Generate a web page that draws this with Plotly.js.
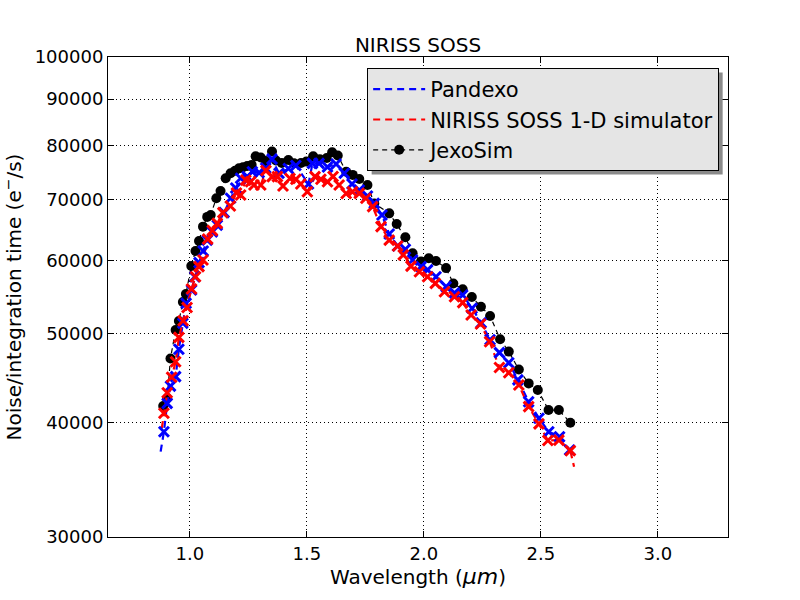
<!DOCTYPE html>
<html>
<head>
<meta charset="utf-8">
<script src="https://cdn.plot.ly/plotly-3.0.1.min.js"></script>
<style>
  html, body { margin: 0; padding: 0; background: #fff; }
  #chart { width: 800px; height: 600px; }
</style>
</head>
<body>
<div id="chart"></div>
<script>
// values (wavelength in µm, noise/integration time in e-/s)
const pandexoX = [0.889,0.903,0.917,0.939,0.953,0.970,0.984,1.007,1.021,1.039,1.057,1.074,1.096,1.117,1.146,1.174,1.196,1.217,1.245,1.267,1.296,1.324,1.351,1.381,1.421,1.453,1.507,1.524,1.552,1.588,1.625,1.660,1.693,1.724,1.759,1.788,1.821,1.852,1.888,1.921,1.952,1.988,2.016,2.052,2.095,2.131,2.166,2.206,2.245,2.283,2.323,2.363,2.402,2.448,2.492,2.534,2.580,2.623];
const pandexoY = [39070,41950,43800,44850,48050,51300,53920,55740,57630,59700,61470,63180,64500,65600,67680,70170,72000,73770,74070,75000,74820,75690,77400,74700,75600,76170,72720,76590,76590,75900,76470,74700,72720,71640,70560,69270,67290,64140,62250,61740,60090,59100,58620,57630,56220,55350,55050,53250,51330,49200,47640,46440,44490,42120,40410,39070,38580,37320];
// the dashed curves run a little past the first and last markers
const pandexoEndsX = [0.875, 2.632];
const pandexoEndsY = [37170, 36900];

const sossX = [0.889,0.903,0.922,0.939,0.953,0.971,0.988,1.007,1.024,1.039,1.056,1.076,1.096,1.117,1.141,1.173,1.199,1.217,1.239,1.260,1.274,1.303,1.325,1.352,1.374,1.398,1.428,1.453,1.474,1.502,1.535,1.560,1.588,1.612,1.638,1.668,1.695,1.724,1.752,1.781,1.817,1.852,1.888,1.912,1.945,1.981,2.016,2.049,2.088,2.131,2.166,2.202,2.242,2.281,2.323,2.363,2.406,2.448,2.492,2.530,2.577,2.626];
const sossY = [40920,43080,44790,46560,49500,51600,53350,55890,57630,59100,60090,63330,64710,65880,67680,68820,71100,70740,73440,73140,72540,72540,75210,74070,74070,72360,73740,73590,72720,71310,74070,73590,73140,74100,72540,71010,71310,71040,70170,68700,65340,63180,62250,60870,59190,58350,57630,56670,55500,54810,54000,52350,51180,48960,45900,45300,43920,41610,39840,38220,38250,37260];
const sossEndsX = [0.880, 2.642];
const sossEndsY = [39420, 35790];

const jexoX = [0.886,0.903,0.917,0.939,0.953,0.970,0.983,1.006,1.024,1.039,1.056,1.074,1.089,1.113,1.131,1.153,1.174,1.193,1.210,1.227,1.245,1.264,1.281,1.303,1.324,1.351,1.368,1.393,1.421,1.445,1.475,1.498,1.527,1.555,1.585,1.608,1.632,1.668,1.696,1.724,1.759,1.788,1.852,1.884,1.921,1.952,1.988,2.021,2.052,2.095,2.126,2.166,2.205,2.244,2.283,2.326,2.363,2.406,2.448,2.487,2.533,2.577,2.626];
const jexoY = [41670,42480,46950,50430,51580,54090,55180,59190,61470,63030,65340,66960,67290,70170,71460,73770,74700,75180,75630,75840,76080,76290,77940,77730,77040,78900,77130,76650,77220,76590,76650,76920,77940,77400,77610,78750,78120,75000,74400,73650,72540,69270,67560,65790,63630,61110,59880,60360,59940,58890,56670,55830,54780,53460,52230,49260,47760,45660,44100,43380,41250,41250,39960];

const xTicks = [1.0, 1.5, 2.0, 2.5, 3.0];
const xTickText = ['1.0', '1.5', '2.0', '2.5', '3.0'];
const yTicks = [30000, 40000, 50000, 60000, 70000, 80000, 90000, 100000];
const yTickText = ['30000', '40000', '50000', '60000', '70000', '80000', '90000', '100000'];

const FONT = 'DejaVu Sans, sans-serif';
const BLUE = '#0000ff', RED = '#ff0000';

function withEnds(xs, ys, ex, ey) {
  return { x: [ex[0]].concat(xs, [ex[1]]), y: [ey[0]].concat(ys, [ey[1]]) };
}
const pLine = withEnds(pandexoX, pandexoY, pandexoEndsX, pandexoEndsY);
const sLine = withEnds(sossX, sossY, sossEndsX, sossEndsY);

const traces = [
  { type: 'scatter', mode: 'lines+markers', name: 'JexoSim', legendrank: 3, legendgroup: 'c',
    x: jexoX, y: jexoY,
    line: { color: '#000', width: 1.2, dash: '5px,4px' },
    marker: { color: '#000', size: 10, symbol: 'circle' } },
  { type: 'scatter', mode: 'lines', name: 'Pandexo', legendrank: 1, legendgroup: 'a',
    x: pLine.x, y: pLine.y,
    line: { color: BLUE, width: 2.2, dash: '7px,5px' } },
  { type: 'scatter', mode: 'lines', name: 'NIRISS SOSS 1-D simulator', legendrank: 2, legendgroup: 'b',
    x: sLine.x, y: sLine.y,
    line: { color: RED, width: 2.2, dash: '7px,5px' } },
  { type: 'scatter', mode: 'markers', showlegend: false, legendgroup: 'a',
    x: pandexoX, y: pandexoY,
    marker: { symbol: 'x-thin', size: 10, color: BLUE, line: { color: BLUE, width: 3 } } },
  { type: 'scatter', mode: 'markers', showlegend: false, legendgroup: 'b',
    x: sossX, y: sossY,
    marker: { symbol: 'x-thin', size: 10, color: RED, line: { color: RED, width: 3 } } }
];

const axisCommon = {
  showgrid: true, gridcolor: '#000', gridwidth: 1, griddash: '1px,3px',
  showline: true, linecolor: '#000', linewidth: 1, mirror: 'ticks',
  ticks: 'inside', ticklen: 6, tickcolor: '#000', tickwidth: 1,
  zeroline: false, tickfont: { family: FONT, size: 18, color: '#000' }
};

const layout = {
  width: 800, height: 600,
  margin: { l: 108, r: 72, t: 57, b: 63 },
  paper_bgcolor: '#fff', plot_bgcolor: '#fff',
  font: { family: FONT, color: '#000' },
  title: { text: 'NIRISS SOSS', font: { family: FONT, size: 20, color: '#000' },
    x: 0.5, xref: 'paper', y: 0.925, yref: 'container', yanchor: 'middle' },
  xaxis: Object.assign({}, axisCommon, {
    range: [0.65, 3.3], tickvals: xTicks, ticktext: xTickText,
    title: { text: 'Wavelength (<i><span style="font-size:22px">μm</span></i>)', font: { family: FONT, size: 20 }, standoff: 6 }
  }),
  yaxis: Object.assign({}, axisCommon, {
    type: 'log', range: [Math.log10(30000), 5], tickvals: yTicks, ticktext: yTickText,
    title: { text: 'Noise/integration time (e<sup>−</sup>/s)', font: { family: FONT, size: 20 }, standoff: 8 }
  }),
  showlegend: true,
  legend: {
    x: 0.418, y: 0.977, xanchor: 'left', yanchor: 'top',
    bgcolor: '#e5e5e5', bordercolor: '#000', borderwidth: 1,
    font: { family: FONT, size: 21, color: '#000' },
    tracegroupgap: 0, itemwidth: 52
  }
};

Plotly.newPlot('chart', traces, layout, { displayModeBar: false, staticPlot: true }).then(gd => {
  // drop shadow behind the legend box, offset a few pixels down-right
  const bg = gd.querySelector('.legend .bg');
  if (!bg) return;
  const r = bg.getBoundingClientRect(), g = gd.getBoundingClientRect();
  const s = gd._fullLayout._size, off = 4;
  const px = v => (v - g.left - s.l) / s.w;
  const py = v => 1 - (v - g.top - s.t) / s.h;
  return Plotly.relayout(gd, { shapes: [{
    type: 'rect', xref: 'paper', yref: 'paper', layer: 'above',
    x0: px(r.left + off), x1: px(r.right + off), y0: py(r.bottom + off), y1: py(r.top + off),
    fillcolor: '#8a8a8a', line: { width: 0 }
  }] });
});
</script>
</body>
</html>
